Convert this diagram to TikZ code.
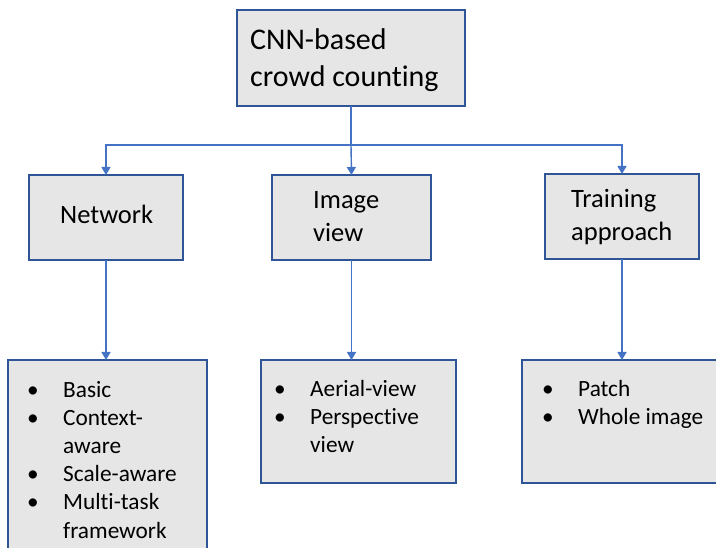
\documentclass[tikz,border=0pt]{standalone}
\usepackage{fontspec}
\setmainfont{Carlito}[Ligatures=NoCommon]
\usetikzlibrary{arrows.meta}
\definecolor{boxfill}{HTML}{E7E6E6}
\definecolor{boxline}{HTML}{2F5597}
\definecolor{conn}{HTML}{4472C4}
\tikzset{
  box/.style={draw=boxline, fill=boxfill, line width=2.2pt, rectangle, inner sep=0pt, outer sep=0pt, anchor=north west},
  conline/.style={draw=conn, line width=1.4pt},
  arr/.style={conline, -{Triangle[length=8pt,width=9pt]}},
  toptxt/.style={font=\fontsize{30}{37}\selectfont, align=left, anchor=base west, inner sep=0pt},
  midtxt/.style={font=\fontsize{26.5}{33.5}\selectfont, align=left, anchor=base west, inner sep=0pt},
  bultxt/.style={font=\fontsize{23.3}{28.2}\selectfont, align=left, anchor=base west, inner sep=0pt},
}
\newcommand{\bul}{\makebox[36pt][l]{•}}
\newcommand{\nobul}{\hspace*{36pt}}
\begin{document}
\begin{tikzpicture}[x=1pt,y=-1pt]
\useasboundingbox (0,0) rectangle (716,548);
\clip (0,0) rectangle (716,548);
% boxes
\node[box, minimum width=228pt, minimum height=96pt] (top) at (237,10) {};
\node[box, minimum width=154pt, minimum height=85pt] (net) at (29,175) {};
\node[box, minimum width=159pt, minimum height=85pt] (img) at (272,175) {};
\node[box, minimum width=154pt, minimum height=85pt] (trn) at (545,174) {};
\node[box, minimum width=199pt, minimum height=210pt] (L) at (8,360) {};
\node[box, minimum width=195pt, minimum height=123pt] (M) at (261,360) {};
\node[box, minimum width=210pt, minimum height=123pt] (R) at (522,360) {};
% texts (base anchor = baseline of last line)
\node[toptxt] (ttop) at (250,87) {CNN-based\\crowd counting};
\node[midtxt] (tnet) at (60,224) {Network};
\node[midtxt] (timg) at (313,242) {Image\\view};
\node[midtxt] (ttrn) at (571,241) {Training\\approach};
\node[bultxt] (tL) at (27,538) {\bul Basic\\\bul Context-\\\nobul aware\\\bul Scale-aware\\\bul Multi-task\\\nobul framework};
\node[bultxt] (tM) at (274,453) {\bul Aerial-view\\\bul Perspective\\\nobul view};
\node[bultxt] (tR) at (542,425) {\bul Patch\\\bul Whole image};
% connectors
\coordinate (hub) at ([yshift=-39pt]top.south);
\draw[conline] (top.south) -- (hub);
\draw[arr] (hub) -- (img.north);
\draw[arr] (hub) -| (net.north);
\draw[arr] (hub) -| (trn.north);
\draw[arr] (net.south) -- (net.south |- L.north);
\draw[arr] (img.south) -- (img.south |- M.north);
\draw[arr] (trn.south) -- (trn.south |- R.north);
\end{tikzpicture}
\end{document}
